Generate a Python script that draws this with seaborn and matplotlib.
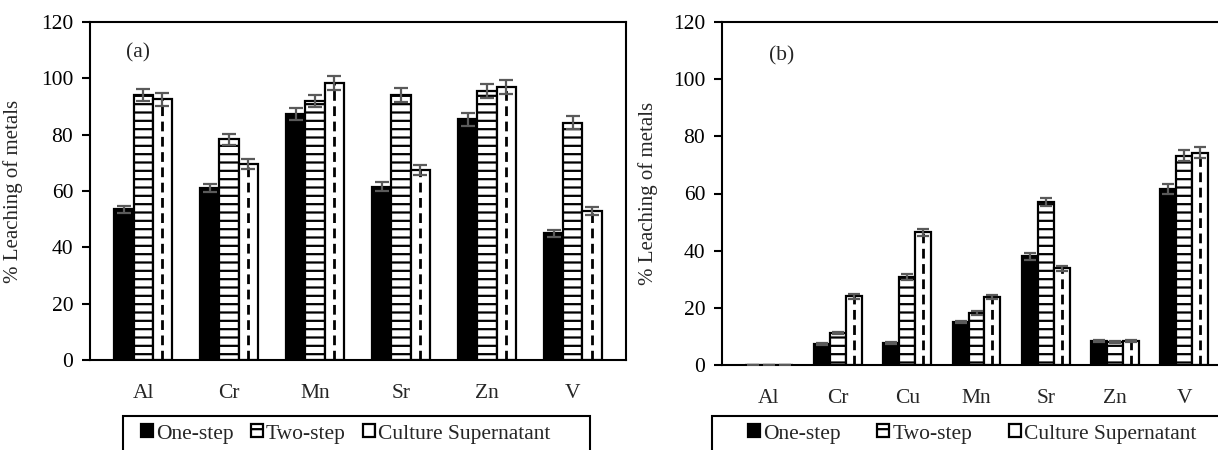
import matplotlib
matplotlib.use("Agg")
import matplotlib.pyplot as plt
from matplotlib.patches import Rectangle
import seaborn as sns
import pandas as pd

# panel (a)
metals_a = ["Al", "Cr", "Mn", "Sr", "Zn", "V"]
one_a = [53.6, 61.0, 87.3, 61.5, 85.5, 45.0]
two_a = [94.1, 78.3, 91.9, 94.1, 95.5, 84.2]
cult_a = [92.5, 69.6, 98.4, 67.4, 96.9, 53.0]
err_one_a = [1.25, 1.5, 2.2, 1.6, 2.3, 1.25]
err_two_a = [2.25, 2.0, 2.2, 2.4, 2.4, 2.25]
err_cult_a = [2.3, 1.8, 2.4, 1.8, 2.4, 1.35]

# panel (b)
metals_b = ["Al", "Cr", "Cu", "Mn", "Sr", "Zn", "V"]
one_b = [0, 7.3, 7.7, 15.0, 38.1, 8.5, 61.6]
two_b = [0, 11.1, 30.8, 18.1, 57.1, 8.1, 73.2]
cult_b = [0, 24.0, 46.4, 23.7, 33.8, 8.3, 74.3]
err_one_b = [0, 0.3, 0.3, 0.4, 1.2, 0.3, 1.75]
err_two_b = [0, 0.4, 0.9, 0.7, 1.5, 0.3, 1.9]
err_cult_b = [0, 0.9, 1.3, 0.75, 1.0, 0.3, 1.9]

methods = ["One-step", "Two-step", "Culture Supernatant"]
yticks = [0, 20, 40, 60, 80, 100, 120]

sns.set_theme(style="white")
plt.rcParams["font.family"] = ["Liberation Serif", "DejaVu Serif"]
plt.rcParams["hatch.linewidth"] = 1.6
plt.rcParams["hatch.color"] = "black"


def long_table(metals, series):
    rows = []
    for m, vals in zip(methods, series):
        for metal, v in zip(metals, vals):
            rows.append({"Metal": metal, "Method": m, "Leach": v})
    return pd.DataFrame(rows)


def draw_panel(ax, metals, series, errors, width, capsize, label, label_xy):
    df = long_table(metals, series)
    sns.barplot(data=df, x="Metal", y="Leach", hue="Method", order=metals,
                hue_order=methods, palette=["black", "white", "white"],
                edgecolor="black", linewidth=1.6, width=width, gap=0,
                errorbar=None, legend=False, ax=ax, saturation=1)
    bars = list(ax.containers)
    for i, cont in enumerate(bars):
        xs = [p.get_x() + p.get_width() / 2 for p in cont.patches]
        hs = [p.get_height() for p in cont.patches]
        if i == 1:
            for p in cont.patches:
                p.set_hatch("--")
        if i == 2:
            # dashed vertical pattern of the culture bars
            ax.vlines(xs, 0, hs, colors="black", linewidth=2,
                      linestyles=(0, (3.5, 2.0)), zorder=3)
        ax.errorbar(xs, hs, yerr=errors[i], fmt="none", ecolor="#5a5a5a",
                    elinewidth=1.6, capsize=capsize, capthick=1.6, zorder=4)
    ax.set_ylim(0, 120)
    ax.set_yticks(yticks)
    ax.set_xlabel("")
    ax.set_ylabel("% Leaching of metals", fontsize=15)
    ax.yaxis.set_label_coords(-0.125, 0.5)
    ax.tick_params(axis="y", left=True, length=6, width=1.5, pad=6,
                   labelsize=15.5, colors="black")
    ax.tick_params(axis="x", bottom=False, pad=11, labelsize=15.5)
    for s in ax.spines.values():
        s.set_color("black")
        s.set_linewidth(1.5)
    ax.text(label_xy[0], label_xy[1], label, fontsize=15.5, va="center")
    return bars


fig = plt.figure(figsize=(12.18, 4.5), dpi=100)
ax_a = fig.add_axes([90 / 1218, 90 / 450, 536 / 1218, 338 / 450])
ax_b = fig.add_axes([722 / 1218, 85 / 450, 509 / 1218, 343 / 450])

bars_a = draw_panel(ax_a, metals_a, [one_a, two_a, cult_a],
                    [err_one_a, err_two_a, err_cult_a], 0.67, 5, "(a)", (-0.2, 109))
bars_b = draw_panel(ax_b, metals_b, [one_b, two_b, cult_b],
                    [err_one_b, err_two_b, err_cult_b], 0.69, 4, "(b)", (0.0, 108))

# legends below each panel
for bars, x0, spacing, box in [(bars_a, 141, 0.8, (123, 590)),
                               (bars_b, 748, 1.7, (712, 1240))]:
    handles = [c.patches[0] for c in bars]
    leg = fig.legend(handles, methods, loc="center left",
                     bbox_to_anchor=(x0 / 1218, 16 / 450), ncol=3,
                     frameon=False, fontsize=15.5, handlelength=0.55,
                     handleheight=0.55, handletextpad=0.15,
                     columnspacing=spacing, borderpad=0, borderaxespad=0)
    leg.legend_handles[2].set_hatch("|")
    fig.patches.append(Rectangle((box[0] / 1218, -0.1), (box[1] - box[0]) / 1218,
                                 0.1 + 34 / 450, transform=fig.transFigure,
                                 fill=False, edgecolor="black", linewidth=1.5))

fig.savefig("out.png", dpi=100)
